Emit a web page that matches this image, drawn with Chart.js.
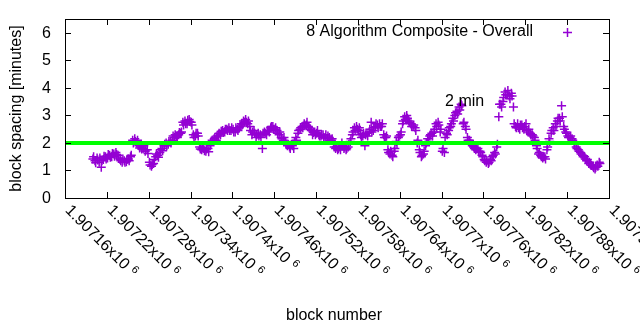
<!DOCTYPE html>
<html><head><meta charset="utf-8">
<script src="https://cdn.jsdelivr.net/npm/chart.js@4/dist/chart.umd.min.js"></script>
<style>html,body{margin:0;padding:0;background:#fff}#wrap{width:640px;height:330px}</style>
</head><body><div id="wrap"><canvas id="c" width="640" height="330"></canvas></div>
<script>
// ---- data ----
const blockStart = 1907200;
const blockStep = 3;
// block spacing read at blockStart + 3*i
const spacingMinutes = [
 1.42,1.35,1.45,1.3,1.12,1.4,1.5,1.45,1.55,1.5,
 1.6,1.65,1.55,1.4,1.3,1.35,1.32,1.42,1.5,2.1,
 2.15,2.0,1.9,1.85,1.8,1.7,1.75,1.3,1.15,1.25,
 1.5,1.55,1.65,1.8,1.9,2.0,1.95,2.05,2.1,2.2,
 2.25,2.3,2.35,2.75,2.8,2.7,2.85,2.75,2.3,2.25,
 2.35,1.85,1.75,1.8,1.7,1.8,1.9,2.1,2.15,2.1,
 2.25,2.3,2.45,2.4,2.5,2.55,2.45,2.5,2.4,2.5,
 2.55,2.7,2.8,2.85,2.7,2.6,2.3,2.45,2.2,2.35,
 2.3,1.8,2.4,2.3,2.45,2.55,2.6,2.5,2.45,2.3,
 2.2,2.1,2.05,1.9,1.85,1.95,1.8,2.2,2.35,2.5,
 2.6,2.7,2.65,2.6,2.5,2.3,2.4,2.35,2.3,2.25,
 2.3,2.2,2.15,2.2,2.1,1.95,1.8,1.75,1.85,2.0,
 1.8,1.75,1.85,2.05,2.3,2.55,2.6,2.45,2.3,2.25,
 1.9,2.35,2.4,2.75,2.45,2.6,2.65,2.7,2.6,2.3,
 2.2,1.75,1.6,1.55,1.7,2.05,2.2,2.3,2.7,2.95,
 3.0,2.8,2.7,2.6,2.55,2.0,1.75,1.5,1.6,1.9,
 2.15,2.25,2.35,2.4,2.7,2.75,2.4,1.7,1.65,2.35,
 2.45,2.6,2.9,3.0,3.15,3.3,3.4,2.7,2.6,2.2,
 2.1,1.95,1.85,1.75,1.8,1.7,1.55,1.4,1.3,1.25,
 1.4,1.5,1.65,1.85,2.95,3.4,3.5,3.85,3.75,3.7,
 3.8,3.3,2.6,2.7,2.5,2.65,2.5,2.7,2.4,2.35,
 2.3,2.2,1.9,1.6,1.55,1.45,1.5,1.75,2.15,2.35,
 2.55,2.7,2.8,2.9,3.35,2.6,2.4,2.25,2.2,2.15,
 1.95,1.85,1.75,1.65,1.55,1.5,1.35,1.25,1.2,1.15,
 1.05,1.2,1.3
];
// block spacing read at blockStart + 1 + 3*i
const spacingMinutesB = [
 1.5,1.28,1.38,1.45,1.35,1.52,1.42,1.58,1.48,1.62,
 1.52,1.58,1.45,1.35,1.42,1.3,1.4,1.35,1.55,2.0,
 2.05,2.1,1.82,1.78,1.9,1.75,1.62,1.2,1.22,1.4,
 1.6,1.48,1.75,1.72,1.95,1.9,2.05,2.0,2.25,2.3,
 2.2,2.38,2.4,2.65,2.7,2.82,2.78,2.65,2.2,2.35,
 2.25,1.78,1.82,1.72,1.78,1.68,1.98,2.05,2.2,2.25,
 2.35,2.42,2.38,2.5,2.45,2.45,2.55,2.4,2.55,2.45,
 2.6,2.65,2.75,2.75,2.8,2.45,2.4,2.35,2.3,2.25,
 2.2,2.35,2.35,2.45,2.4,2.6,2.5,2.55,2.35,2.4,
 2.15,2.2,1.95,1.95,1.8,1.9,2.05,2.1,2.45,2.55,
 2.55,2.62,2.75,2.55,2.45,2.38,2.3,2.45,2.25,2.3,
 2.2,2.3,2.25,2.1,2.15,1.85,1.85,1.8,1.75,1.9,
 1.85,1.8,1.95,2.15,2.4,2.45,2.5,2.55,2.2,2.35,
 2.3,2.25,2.5,2.4,2.55,2.7,2.55,2.6,2.7,2.2,
 2.25,1.65,1.7,1.5,1.8,1.95,2.25,2.4,2.8,2.85,
 2.9,2.75,2.6,2.65,2.45,2.1,1.65,1.55,1.7,2.0,
 2.05,2.3,2.25,2.5,2.6,2.65,2.5,1.8,2.2,2.3,
 2.55,2.7,2.8,3.1,3.05,3.2,3.35,2.75,2.5,2.1,
 2.0,1.9,1.8,1.8,1.7,1.65,1.5,1.35,1.35,1.3,
 1.35,1.55,1.6,1.95,3.4,3.3,3.65,3.75,3.9,3.6,
 3.7,2.7,2.55,2.55,2.65,2.55,2.6,2.45,2.5,2.3,
 2.25,2.1,1.8,1.65,1.5,1.5,1.42,1.85,2.05,2.45,
 2.45,2.6,2.9,2.8,2.95,2.5,2.35,2.2,2.25,2.1,
 2.0,1.8,1.7,1.6,1.5,1.42,1.4,1.3,1.18,1.1,
 1.12,1.15,1.25
];
const targetMinutes = 2;
const xMin = 1907160, xMax = 1907940, xTickStep = 60;
const xTickLabels = ["1.90716","1.90722","1.90728","1.90734","1.9074","1.90746","1.90752",
  "1.90758","1.90764","1.9077","1.90776","1.90782","1.90788","1.90794"];
const yTicks = [0,1,2,3,4,5,6];
const seriesName = "8 Algorithm Composite - Overall";
const annotation = {text: "2 min", block: 1907705, value: 3.5};

const points = spacingMinutes.map((v,i)=>({x: blockStart + i*blockStep, y: v}))
  .concat(spacingMinutesB.map((v,i)=>({x: blockStart + 1 + i*blockStep, y: v})));
const PURPLE = '#9400d3';
const FONT = '"Liberation Sans", Arial, sans-serif';

const deco = {
  id: 'deco',
  afterDatasetsDraw(chart) {
    const {ctx, chartArea: a, scales: {x, y}} = chart;
    ctx.save();
    ctx.strokeStyle = '#000'; ctx.lineWidth = 1;
    ctx.strokeRect(Math.round(a.left)+0.5, Math.round(a.top)+0.5, Math.round(a.right-a.left), Math.round(a.bottom-a.top));
    ctx.fillStyle = '#000';
    xTickLabels.forEach((lab, i) => {
      const v = xMin + i*xTickStep;
      const px = Math.round(x.getPixelForValue(v)) + 0.5;
      ctx.beginPath();
      ctx.moveTo(px, a.bottom); ctx.lineTo(px, a.bottom-6);
      ctx.moveTo(px, a.top); ctx.lineTo(px, a.top+6);
      ctx.stroke();
      ctx.save();
      ctx.translate(px+2, a.bottom+10);
      ctx.rotate(Math.PI/4);
      ctx.font = '16px ' + FONT;
      ctx.textAlign = 'left'; ctx.textBaseline = 'middle';
      const main = lab + 'x10';
      ctx.fillText(main, 0, 0);
      const w = ctx.measureText(main).width;
      ctx.font = '11px ' + FONT;
      ctx.fillText('6', w + 5, -4);
      ctx.restore();
    });
    ctx.font = '16px ' + FONT;
    ctx.textAlign = 'right'; ctx.textBaseline = 'middle';
    yTicks.forEach(t => {
      const py = Math.round(y.getPixelForValue(t)) + 0.5;
      ctx.beginPath();
      ctx.moveTo(a.left, py); ctx.lineTo(a.left+6, py);
      ctx.moveTo(a.right, py); ctx.lineTo(a.right-6, py);
      ctx.stroke();
      ctx.fillText(String(t), a.left-14, py);
    });
    ctx.textAlign = 'center';
    ctx.fillText('block number', (a.left+a.right)/2 - 3, 316);
    ctx.save();
    ctx.translate(17, (a.top+a.bottom)/2);
    ctx.rotate(-Math.PI/2);
    ctx.fillText('block spacing [minutes]', 0, 0);
    ctx.restore();
    ctx.textAlign = 'right';
    ctx.fillText(seriesName, 533, 32);
    ctx.strokeStyle = PURPLE;
    ctx.lineWidth = 1.5;
    ctx.beginPath();
    ctx.moveTo(563, 32.5); ctx.lineTo(572, 32.5);
    ctx.moveTo(567.5, 28); ctx.lineTo(567.5, 37);
    ctx.stroke();
    ctx.textAlign = 'left';
    ctx.fillText(annotation.text, x.getPixelForValue(annotation.block), y.getPixelForValue(annotation.value));
    ctx.restore();
  }
};

new Chart(document.getElementById('c'), {
  type: 'scatter',
  data: {
    datasets: [
      {
        type: 'line',
        data: [{x: xMin, y: targetMinutes}, {x: xMax, y: targetMinutes}],
        borderColor: '#00ff00', borderWidth: 4, pointRadius: 0, order: 0
      },
      {
        data: points,
        pointStyle: 'cross', pointRadius: 4.5, pointBorderWidth: 1.5,
        borderColor: PURPLE, backgroundColor: PURPLE, order: 1
      }
    ]
  },
  options: {
    responsive: false, animation: false,
    layout: {padding: {left: 65, right: 31, top: 19, bottom: 132}},
    plugins: {legend: {display: false}, tooltip: {enabled: false}},
    scales: {
      x: {type: 'linear', min: xMin, max: xMax, display: false},
      y: {min: 0, max: 6.5, display: false}
    }
  },
  plugins: [deco]
});
</script>
</body></html>
